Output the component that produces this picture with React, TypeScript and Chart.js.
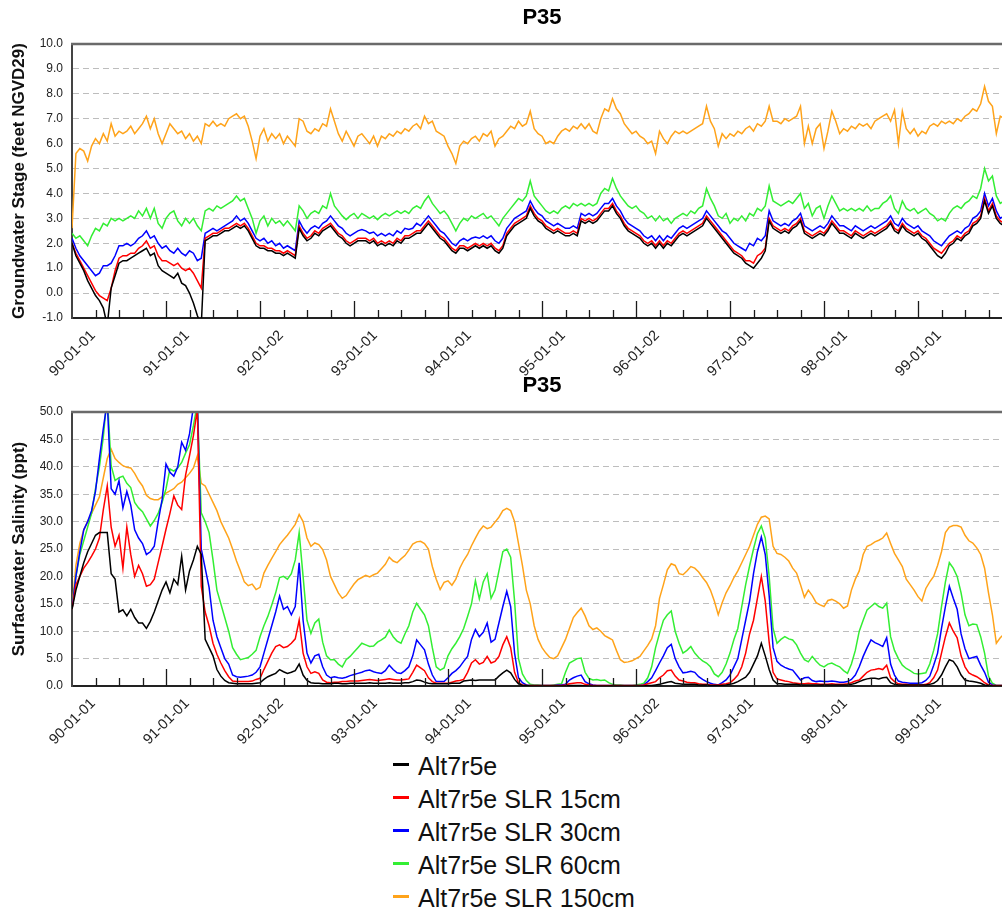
import React, { useEffect, useRef } from 'react';
import { Chart, registerables } from 'chart.js';

Chart.register(...registerables);

const FONT = "'Liberation Sans', Arial, Helvetica, sans-serif";

const CHART_TITLE = 'P35';
const SERIES_NAMES = ['Alt7r5e', 'Alt7r5e SLR 15cm', 'Alt7r5e SLR 30cm', 'Alt7r5e SLR 60cm', 'Alt7r5e SLR 150cm'];
const SERIES_COLORS = ['#000000', '#ff0000', '#0000ff', '#33ee33', '#ffa31a'];
const YEAR_LABELS = ['90-01-01', '91-01-01', '92-01-02', '93-01-01', '94-01-01', '95-01-01', '96-01-02', '97-01-01', '98-01-01', '99-01-01'];
const SAMPLES_PER_YEAR = 24; // semi-monthly samples starting 1990-01-01
const X_YEARS = 10;

// ---------- Groundwater stage (feet NGVD29) ----------
const GW_BASE = [
  2.0, 1.5, 1.2, 0.9, 0.5, 0.2, -0.1, -0.3, -0.6, -1.3, 0.2, 0.7, 1.2, 1.3, 1.3, 1.4, 1.5, 1.6, 1.7, 1.8, 1.5, 1.6, 1.1, 0.9,
  0.8, 0.7, 0.6, 0.8, 0.4, 0.3, 0.0, -0.4, -0.9, -1.3, 2.1, 2.2, 2.3, 2.3, 2.4, 2.5, 2.5, 2.6, 2.7, 2.6, 2.7, 2.5, 2.2, 1.9,
  1.8, 1.8, 1.7, 1.7, 1.6, 1.6, 1.5, 1.6, 1.5, 1.4, 2.6, 2.3, 2.1, 2.2, 2.4, 2.3, 2.5, 2.6, 2.7, 2.5, 2.3, 2.2, 2.0, 1.9,
  2.0, 2.1, 2.1, 2.1, 2.0, 2.1, 1.9, 2.0, 1.9, 2.0, 1.9, 2.1, 2.0, 2.2, 2.2, 2.3, 2.4, 2.4, 2.6, 2.8, 2.6, 2.4, 2.2, 2.1,
  1.9, 1.7, 1.6, 1.8, 1.8, 1.7, 1.8, 1.9, 1.8, 1.9, 1.8, 1.9, 1.7, 1.6, 1.8, 2.3, 2.5, 2.7, 2.8, 2.9, 3.0, 3.4, 3.1, 2.9,
  2.8, 2.6, 2.5, 2.4, 2.5, 2.4, 2.3, 2.3, 2.4, 2.3, 2.9, 2.8, 2.9, 2.8, 2.9, 3.1, 3.3, 3.3, 3.5, 3.2, 3.0, 2.7, 2.5, 2.4,
  2.3, 2.2, 2.0, 1.9, 2.0, 1.8, 2.0, 1.8, 2.0, 1.9, 2.1, 2.3, 2.4, 2.3, 2.4, 2.5, 2.6, 2.7, 3.0, 2.8, 2.6, 2.4, 2.2, 2.0,
  1.8, 1.6, 1.5, 1.4, 1.2, 1.1, 1.0, 1.2, 1.4, 1.7, 2.9, 2.6, 2.5, 2.4, 2.5, 2.4, 2.6, 2.7, 2.9, 2.4, 2.3, 2.2, 2.3, 2.4,
  2.3, 2.5, 2.8, 2.6, 2.4, 2.4, 2.3, 2.2, 2.4, 2.3, 2.2, 2.3, 2.4, 2.3, 2.4, 2.5, 2.6, 2.8, 2.5, 2.4, 2.7, 2.5, 2.4, 2.3,
  2.4, 2.2, 2.1, 1.9, 1.7, 1.5, 1.4, 1.6, 1.9, 2.0, 2.2, 2.1, 2.3, 2.4, 2.7, 2.8, 3.0, 3.7, 3.2, 3.5, 3.0, 2.8, 2.7,
];
const GW_SLR15 = [
  2.0, 1.6, 1.3, 1.0, 0.7, 0.4, 0.1, -0.1, -0.2, -0.3, 0.2, 0.9, 1.4, 1.5, 1.5, 1.6, 1.6, 1.8, 1.9, 2.1, 1.8, 1.9, 1.5, 1.3,
  1.3, 1.2, 1.1, 1.2, 1.0, 0.9, 1.0, 0.8, 0.5, 0.2, 2.2, 2.3, 2.4, 2.4, 2.5, 2.6, 2.6, 2.7, 2.8, 2.7, 2.8, 2.6, 2.3, 2.0,
  1.9, 1.9, 1.8, 1.8, 1.7, 1.7, 1.6, 1.7, 1.6, 1.5, 2.7, 2.4, 2.2, 2.3, 2.5, 2.4, 2.6, 2.7, 2.8, 2.6, 2.4, 2.3, 2.1, 2.0,
  2.1, 2.2, 2.2, 2.2, 2.1, 2.2, 2.0, 2.1, 2.0, 2.1, 2.0, 2.2, 2.1, 2.3, 2.3, 2.4, 2.5, 2.5, 2.7, 2.9, 2.7, 2.5, 2.3, 2.2,
  2.0, 1.8, 1.7, 1.9, 1.9, 1.8, 1.9, 2.0, 1.9, 2.0, 1.9, 2.0, 1.8, 1.7, 1.9, 2.4, 2.6, 2.8, 2.9, 3.0, 3.1, 3.5, 3.2, 3.0,
  2.9, 2.7, 2.6, 2.5, 2.6, 2.5, 2.4, 2.4, 2.5, 2.4, 3.0, 2.9, 3.0, 2.9, 3.0, 3.2, 3.4, 3.4, 3.6, 3.3, 3.1, 2.8, 2.6, 2.5,
  2.4, 2.3, 2.1, 2.0, 2.1, 1.9, 2.1, 1.9, 2.1, 2.0, 2.2, 2.4, 2.5, 2.4, 2.5, 2.6, 2.7, 2.8, 3.1, 2.9, 2.7, 2.5, 2.3, 2.1,
  1.9, 1.7, 1.6, 1.5, 1.3, 1.3, 1.2, 1.5, 1.6, 1.8, 3.0, 2.7, 2.6, 2.5, 2.6, 2.5, 2.7, 2.8, 3.0, 2.5, 2.4, 2.3, 2.4, 2.5,
  2.4, 2.6, 2.9, 2.7, 2.5, 2.5, 2.4, 2.3, 2.5, 2.4, 2.3, 2.4, 2.5, 2.4, 2.5, 2.6, 2.7, 2.9, 2.6, 2.5, 2.8, 2.6, 2.5, 2.4,
  2.5, 2.3, 2.2, 2.0, 1.8, 1.7, 1.6, 1.8, 2.0, 2.1, 2.3, 2.2, 2.4, 2.5, 2.8, 2.9, 3.1, 3.8, 3.3, 3.6, 3.1, 2.9, 2.8,
];
const GW_SLR30 = [
  2.2, 1.8, 1.5, 1.3, 1.1, 0.9, 0.7, 0.8, 1.1, 1.1, 1.2, 1.5, 1.9, 1.9, 2.0, 1.9, 2.0, 2.2, 2.3, 2.5, 2.2, 2.3, 2.0, 1.8,
  1.9, 1.7, 1.6, 1.8, 1.6, 1.5, 1.7, 1.6, 1.3, 1.4, 2.4, 2.5, 2.6, 2.5, 2.6, 2.7, 2.8, 2.9, 3.1, 2.9, 3.0, 2.8, 2.5, 2.2,
  2.1, 2.2, 2.0, 2.1, 1.9, 2.0, 1.8, 1.9, 1.8, 1.7, 2.9, 2.6, 2.4, 2.6, 2.7, 2.6, 2.8, 2.9, 3.1, 2.9, 2.7, 2.6, 2.4, 2.3,
  2.4, 2.5, 2.55, 2.5, 2.4, 2.45, 2.3, 2.4, 2.3, 2.4, 2.3, 2.5, 2.4, 2.6, 2.55, 2.6, 2.8, 2.7, 2.9, 3.1, 2.9, 2.7, 2.5, 2.4,
  2.2, 2.0, 1.9, 2.1, 2.2, 2.1, 2.2, 2.25, 2.2, 2.3, 2.2, 2.3, 2.1, 2.0, 2.2, 2.6, 2.8, 3.0, 3.1, 3.2, 3.3, 3.7, 3.4, 3.2,
  3.1, 2.9, 2.8, 2.7, 2.8, 2.7, 2.6, 2.6, 2.7, 2.6, 3.2, 3.1, 3.2, 3.1, 3.2, 3.4, 3.6, 3.6, 3.8, 3.5, 3.3, 3.0, 2.8, 2.7,
  2.6, 2.5, 2.3, 2.2, 2.3, 2.1, 2.3, 2.1, 2.3, 2.2, 2.4, 2.6, 2.7, 2.6, 2.7, 2.8, 2.9, 3.0, 3.3, 3.1, 2.9, 2.7, 2.5, 2.4,
  2.2, 2.0, 1.9, 1.8, 1.7, 2.0, 1.9, 2.2, 2.1, 2.3, 3.3, 2.9, 2.8, 2.7, 2.8, 2.7, 2.9, 3.0, 3.2, 2.7, 2.6, 2.5, 2.6, 2.7,
  2.6, 2.8, 3.1, 2.9, 2.7, 2.7, 2.6, 2.5, 2.7, 2.6, 2.5, 2.6, 2.7, 2.6, 2.7, 2.8, 2.9, 3.1, 2.8, 2.7, 3.0, 2.8, 2.7, 2.6,
  2.7, 2.5, 2.4, 2.3, 2.1, 2.0, 1.9, 2.1, 2.3, 2.4, 2.5, 2.4, 2.6, 2.7, 3.0, 3.1, 3.3, 4.0, 3.5, 3.8, 3.3, 3.0, 3.1,
];
const GW_SLR60 = [
  2.4, 2.2, 2.3, 2.1, 1.9, 2.3, 2.6, 2.5, 2.8, 2.7, 3.0, 2.9, 3.0, 2.9, 3.0, 3.1, 3.0, 3.3, 3.1, 3.4, 3.0, 3.4, 2.8, 2.6,
  3.0, 3.2, 3.3, 2.9, 2.7, 3.0, 2.8, 3.0, 2.7, 2.5, 3.3, 3.4, 3.3, 3.5, 3.4, 3.5, 3.6, 3.7, 3.9, 3.7, 3.8, 3.4, 3.0, 2.4,
  2.9, 3.1, 2.7, 3.0, 2.8, 2.9, 2.7, 2.9, 2.7, 2.5, 3.5, 3.3, 3.0, 3.2, 3.3, 3.2, 3.5, 3.4, 4.0, 3.5, 3.3, 3.1, 2.95, 3.1,
  3.2, 3.0, 3.2, 3.1, 3.0, 3.1, 2.95, 3.1, 3.2, 3.1, 3.2, 3.3, 3.2, 3.3, 3.2, 3.4, 3.5, 3.4, 3.7, 3.9, 3.6, 3.4, 3.2, 3.3,
  3.1, 2.8, 2.5, 2.8, 3.0, 2.9, 3.1, 3.0, 3.1, 3.2, 3.0, 3.1, 2.9, 2.7, 3.0, 3.2, 3.4, 3.6, 3.8, 3.7, 3.9, 4.5, 3.9, 3.7,
  3.5, 3.3, 3.2, 3.3, 3.2, 3.4, 3.5, 3.4, 3.6, 3.5, 3.6, 3.5, 3.6, 3.5, 3.6, 4.0, 4.2, 4.1, 4.6, 4.2, 3.9, 3.7, 3.5, 3.4,
  3.5, 3.3, 3.2, 3.0, 3.1, 2.9, 3.1, 2.9, 3.0, 2.8, 3.0, 3.1, 3.2, 3.1, 3.3, 3.2, 3.4, 3.5, 4.2, 3.8, 3.5, 3.1, 3.0, 3.2,
  2.8, 3.0, 2.9, 3.1, 2.9, 3.2, 3.1, 3.4, 3.3, 3.5, 4.3, 3.7, 3.6, 3.5, 3.6, 3.7, 3.6, 3.8, 4.0, 3.4, 3.6, 3.1, 3.4, 3.5,
  3.0, 3.5, 3.9, 3.6, 3.3, 3.4, 3.3, 3.4, 3.3, 3.4, 3.3, 3.5, 3.3, 3.4, 3.4, 3.6, 3.7, 3.9, 3.4, 3.2, 3.7, 3.4, 3.3, 3.4,
  3.2, 3.3, 3.4, 3.2, 3.1, 2.9, 3.0, 2.9, 3.2, 3.4, 3.5, 3.4, 3.6, 3.7, 3.9, 3.8, 4.2, 5.0, 4.5, 4.7, 3.9, 3.6, 3.7,
];
const GW_SLR150 = [
  2.6, 5.6, 5.8, 5.7, 5.3, 5.9, 6.2, 6.0, 6.4, 6.1, 6.8, 6.3, 6.5, 6.4, 6.5, 6.7, 6.4, 6.6, 6.8, 7.1, 6.6, 7.0, 6.4, 6.0,
  6.4, 6.8, 6.6, 6.4, 6.5, 6.2, 6.4, 6.1, 6.3, 6.0, 6.8, 6.7, 6.9, 6.7, 6.8, 6.7, 7.0, 7.1, 7.2, 7.0, 7.1, 6.7, 6.1, 5.4,
  6.3, 6.6, 6.1, 6.4, 6.2, 6.4, 6.0, 6.3, 6.1, 5.9, 7.0, 6.9, 6.5, 6.4, 6.6, 6.5, 6.8, 6.7, 7.4, 6.9, 6.4, 6.1, 6.5, 6.2,
  5.9, 6.3, 6.4, 6.2, 6.0, 6.3, 5.9, 6.3, 6.2, 6.4, 6.3, 6.5, 6.4, 6.6, 6.5, 6.7, 6.8, 6.6, 7.1, 6.8, 6.9, 6.5, 6.4, 6.3,
  5.9, 5.6, 5.2, 5.9, 6.1, 6.0, 6.2, 6.3, 6.1, 6.4, 6.3, 6.5, 5.9, 6.2, 6.3, 6.5, 6.7, 6.6, 6.9, 6.7, 6.8, 7.3, 6.6, 6.4,
  6.3, 6.0, 6.1, 6.0, 6.3, 6.5, 6.6, 6.5, 6.7, 6.6, 6.8, 6.6, 6.8, 6.5, 6.4, 7.0, 7.4, 7.3, 7.8, 7.4, 7.2, 6.8, 6.6, 6.4,
  6.5, 6.3, 6.2, 6.0, 6.1, 5.6, 6.5, 6.2, 6.0, 6.3, 6.5, 6.4, 6.5, 6.4, 6.5, 6.6, 6.7, 6.8, 7.5, 6.9, 6.6, 5.9, 6.4, 6.2,
  6.4, 6.3, 6.5, 6.4, 6.6, 6.7, 6.5, 6.8, 6.7, 6.9, 7.5, 6.9, 6.9, 6.8, 7.0, 6.9, 7.0, 7.1, 7.5, 6.0, 6.7, 6.0, 6.6, 6.8,
  5.8, 6.5, 7.3, 6.9, 6.4, 6.6, 6.5, 6.7, 6.6, 6.8, 6.7, 6.8, 6.6, 6.9, 7.0, 7.1, 7.2, 6.9, 7.35, 6.0, 7.3, 6.6, 6.4, 6.6,
  6.3, 6.5, 6.4, 6.7, 6.8, 6.7, 6.9, 6.8, 6.9, 6.8, 7.0, 6.9, 7.1, 7.2, 7.4, 7.3, 7.6, 8.3, 7.7, 7.5, 6.4, 7.1, 7.0,
];

// ---------- Surfacewater salinity (ppt) ----------
const SAL_BASE = [
  14, 17.5, 20.0, 22.5, 24.5, 26.0, 27.5, 28.0, 28.0, 28.0, 20.5, 19.5, 13.5, 13.9, 12.8, 14.0, 12.5, 11.5, 11.5, 10.5, 11.8, 13.5, 15.5, 17.5,
  19.0, 17.0, 19.5, 18.5, 23.7, 17.5, 21.0, 23.0, 25.5, 24.0, 8.5, 7.0, 5.5, 3.0, 1.8, 1.0, 0.6, 0.5, 0.4, 0.4, 0.4, 0.4, 0.4, 0.5,
  0.6, 1.2, 1.7, 2.0, 2.3, 3.0, 2.6, 2.3, 2.5, 2.8, 4.0, 2.0, 1.0, 0.6, 0.5, 0.5, 0.4, 0.4, 0.4, 0.5, 0.5, 0.4, 0.4, 0.5,
  0.5, 0.5, 0.5, 0.5, 0.6, 0.5, 0.5, 0.5, 0.5, 0.6, 0.5, 0.5, 0.5, 0.6, 0.6, 0.8, 1.1, 1.0, 0.7, 0.5, 0.4, 0.4, 0.4, 0.4,
  0.4, 0.5, 0.5, 0.5, 0.9, 1.0, 1.1, 1.0, 1.1, 1.1, 1.1, 1.1, 1.1, 1.8, 2.4, 2.9, 2.4, 1.2, 0.4, 0.1, 0.1, 0.0, 0.0, 0.0,
  0.0, 0.0, 0.0, 0.0, 0.0, 0.0, 0.0, 0.1, 0.1, 0.1, 0.1, 0.0, 0.0, 0.0, 0.0, 0.0, 0.0, 0.0, 0.0, 0.0, 0.0, 0.0, 0.0, 0.0,
  0.0, 0.0, 0.0, 0.1, 0.1, 0.2, 0.3, 0.5, 0.7, 0.8, 0.5, 0.4, 0.3, 0.3, 0.3, 0.3, 0.2, 0.2, 0.2, 0.1, 0.1, 0.1, 0.1, 0.2,
  0.3, 0.5, 0.8, 1.2, 1.6, 2.5, 4.0, 5.5, 7.8, 5.5, 3.0, 1.1, 0.4, 0.4, 0.3, 0.3, 0.3, 0.3, 0.2, 0.2, 0.2, 0.2, 0.2, 0.2,
  0.2, 0.2, 0.2, 0.2, 0.2, 0.2, 0.2, 0.3, 0.5, 0.8, 1.1, 1.3, 1.4, 1.4, 1.3, 1.5, 1.6, 0.6, 0.3, 0.2, 0.2, 0.2, 0.2, 0.2,
  0.2, 0.2, 0.2, 0.3, 0.5, 1.0, 2.0, 3.5, 4.8, 4.5, 3.5, 2.0, 1.1, 0.9, 0.8, 0.7, 0.5, 0.2, 0.1, 0.0, 0.0, 0.0, 0.0,
];
const SAL_SLR15 = [
  14, 18.5, 20.0, 21.5, 22.5, 23.7, 25.0, 27.0, 32.2, 36.5, 29.0, 25.5, 27.5, 21.5, 29.0, 24.0, 20.0, 22.0, 20.5, 18.2, 18.5, 19.5, 22.5, 25.5,
  28.6, 31.5, 34.7, 33.0, 32.2, 38.5, 42.0, 45.7, 50.5, 18.2, 13.5, 11.0, 7.8, 5.8, 4.2, 2.8, 1.7, 0.9, 0.8, 0.8, 0.8, 0.8, 0.9, 1.2,
  1.4, 3.0, 4.5, 6.0, 7.2, 7.5, 7.0, 7.2, 7.8, 8.6, 12.0, 6.0, 3.5, 2.3, 2.6, 2.3, 1.1, 0.7, 0.6, 0.7, 0.7, 0.8, 0.8, 0.9,
  0.9, 0.9, 1.0, 1.1, 1.2, 1.1, 1.0, 1.1, 1.2, 1.3, 1.2, 1.1, 1.1, 1.2, 1.3, 2.5, 3.8, 3.3, 2.8, 1.5, 0.8, 0.5, 0.5, 0.5,
  0.5, 0.7, 0.9, 1.0, 1.2, 2.5, 4.2, 4.8, 4.0, 4.3, 5.4, 4.2, 4.5, 5.4, 7.5, 9.0, 7.0, 2.5, 0.6, 0.2, 0.1, 0.1, 0.1, 0.1,
  0.1, 0.1, 0.1, 0.1, 0.1, 0.1, 0.2, 0.4, 0.5, 0.6, 0.6, 0.3, 0.2, 0.1, 0.1, 0.1, 0.1, 0.1, 0.1, 0.1, 0.1, 0.1, 0.1, 0.1,
  0.1, 0.1, 0.2, 0.4, 0.6, 0.8, 1.5, 2.0, 2.8, 2.9, 1.8, 1.1, 0.9, 0.7, 0.6, 0.6, 0.4, 0.3, 0.3, 0.2, 0.2, 0.2, 0.3, 0.4,
  0.6, 1.2, 2.0, 3.5, 6.0, 9.5, 12.0, 16.0, 20.0, 15.5, 8.0, 2.5, 1.3, 1.1, 0.9, 0.8, 0.6, 0.5, 0.4, 0.4, 0.5, 0.4, 0.4, 0.3,
  0.3, 0.3, 0.4, 0.3, 0.3, 0.3, 0.4, 0.6, 0.9, 1.1, 1.8, 2.5, 2.9, 3.0, 3.2, 3.0, 3.8, 1.5, 0.8, 0.4, 0.3, 0.3, 0.2, 0.2,
  0.2, 0.2, 0.3, 0.6, 1.5, 2.9, 6.0, 9.0, 11.5, 10.0, 8.8, 5.5, 3.5, 2.4, 2.0, 1.7, 1.2, 0.6, 0.2, 0.1, 0.1, 0.1, 0.1,
];
const SAL_SLR30 = [
  14, 20, 24.5, 28.5, 30.0, 32.0, 35.5, 41.5, 47.0, 52, 36.0, 35.0, 37.5, 32.5, 35.5, 33.0, 28.5, 27.0, 26.0, 24.0, 24.5, 25.5, 30.0, 34.0,
  40.5, 39.0, 38.3, 40.0, 44.5, 43.0, 46.0, 51, 52, 25.0, 21.5, 18.0, 12.0, 9.0, 7.0, 5.0, 4.0, 2.0, 1.7, 1.6, 1.7, 1.8, 2.0, 2.5,
  3.5, 6.0, 8.5, 11.0, 13.5, 16.4, 14.0, 14.5, 13.0, 14.5, 22.5, 12.0, 6.0, 4.2, 5.5, 5.8, 3.5, 2.0, 1.5, 1.7, 1.5, 1.4, 1.6, 1.9,
  2.1, 2.3, 2.5, 2.8, 2.9, 2.6, 2.4, 2.3, 2.8, 3.8, 3.0, 2.4, 2.3, 2.8, 3.5, 5.5, 8.4, 7.5, 6.6, 4.0, 2.0, 0.8, 0.8, 0.8,
  1.5, 2.3, 2.8, 3.5, 4.5, 5.4, 8.5, 10.3, 9.0, 9.8, 11.5, 8.0, 8.5, 11.5, 14.5, 17.3, 14.5, 6.0, 1.5, 0.6, 0.2, 0.1, 0.1, 0.1,
  0.1, 0.1, 0.1, 0.1, 0.2, 0.2, 0.3, 1.1, 1.5, 1.8, 2.0, 0.8, 0.4, 0.2, 0.1, 0.1, 0.1, 0.1, 0.1, 0.1, 0.1, 0.1, 0.1, 0.1,
  0.1, 0.1, 0.2, 0.8, 1.5, 2.8, 4.2, 5.5, 7.0, 7.6, 5.0, 3.5, 2.4, 2.5, 2.7, 2.5, 1.7, 1.2, 0.8, 0.5, 0.3, 0.2, 0.6, 1.1,
  2.0, 3.5, 5.0, 8.5, 12.0, 15.5, 20.5, 24.5, 27.2, 24.0, 16.5, 7.0, 4.5, 3.8, 3.4, 3.1, 2.9, 2.0, 1.1, 1.5, 1.6, 1.0, 0.8, 0.9,
  0.8, 0.8, 0.9, 0.8, 0.7, 0.7, 0.8, 1.2, 2.0, 3.5, 5.4, 7.0, 8.4, 7.9, 7.6, 7.2, 8.8, 4.0, 2.0, 0.9, 0.7, 0.6, 0.5, 0.5,
  0.5, 0.6, 1.0, 1.8, 3.8, 6.0, 10.5, 14.5, 18.2, 16.0, 14.0, 9.5, 6.8, 5.0, 5.2, 5.4, 3.8, 2.5, 0.7, 0.2, 0.1, 0.1, 0.1,
];
const SAL_SLR60 = [
  14, 20, 24, 26.5, 29, 31.5, 36, 40, 45.5, 53, 40.2, 37.5, 38.0, 38.3, 37.0, 36.2, 33.5, 32.5, 31.8, 30.5, 29.2, 30.2, 31.5, 33.5,
  36.0, 39.6, 39.2, 39.8, 40.8, 42.5, 44.0, 47.5, 51.5, 31.6, 30.0, 28.0, 23.0, 17.5, 15.0, 12.5, 10.0, 7.0, 5.8, 4.8, 5.0, 5.2, 5.8, 6.5,
  9.0, 11.0, 12.7, 14.8, 17.0, 19.8, 20.0, 19.5, 20.5, 23.0, 28.0, 20.0, 12.0, 9.6, 11.5, 12.2, 8.0, 5.5, 4.8, 4.8, 4.0, 3.5, 4.8, 5.4,
  6.2, 7.0, 7.8, 7.5, 7.2, 7.3, 8.0, 8.4, 8.9, 10.2, 9.0, 8.2, 7.8, 9.5, 11.0, 13.5, 15.1, 14.0, 13.0, 11.0, 7.0, 3.5, 2.9, 3.3,
  5.5, 6.8, 7.8, 9.0, 10.5, 12.7, 15.0, 19.2, 15.9, 19.0, 20.5, 16.0, 17.5, 21.0, 24.5, 25.0, 23.5, 15.5, 5.0, 2.2, 1.0, 0.3, 0.2, 0.2,
  0.1, 0.1, 0.1, 0.2, 0.3, 0.4, 2.5, 4.2, 4.6, 5.0, 5.1, 2.5, 1.4, 1.1, 1.2, 1.0, 1.1, 0.6, 0.3, 0.2, 0.2, 0.1, 0.1, 0.1,
  0.2, 0.3, 0.5, 1.5, 3.5, 7.0, 9.6, 12.0, 13.0, 13.7, 10.0, 7.8, 6.0, 6.5, 7.2, 6.0, 5.2, 4.6, 4.2, 3.5, 2.2, 1.7, 2.5, 4.0,
  6.0, 8.5, 10.5, 14.5, 18.5, 21.9, 25.0, 27.8, 29.2, 27.0, 20.0, 10.5, 7.8, 8.5, 9.0, 8.6, 8.4, 7.5, 6.0, 4.8, 4.4, 5.4, 4.5, 3.8,
  3.5, 4.0, 4.2, 3.8, 3.5, 2.8, 2.3, 4.0, 6.5, 10.0, 12.0, 13.9, 14.5, 15.1, 14.5, 14.2, 15.1, 9.0, 6.5, 5.0, 3.8, 3.2, 2.8, 2.3,
  2.2, 2.3, 2.4, 4.0, 6.5, 9.5, 14.5, 19.0, 22.5, 21.5, 20.0, 17.0, 13.0, 11.0, 11.3, 11.2, 9.0, 6.0, 1.8, 0.5, 0.1, 0.1, 0.1,
];
const SAL_SLR150 = [
  14, 22, 26, 28.5, 30, 31.5, 33, 34.5, 38, 41.5, 43.2, 41.5, 40.8, 40.2, 39.9, 39.8, 38.8, 37.5, 36.5, 34.8, 34.2, 34.0, 34.0, 34.5,
  35.2, 35.6, 36.0, 36.8, 37.2, 38.0, 38.8, 39.8, 42.0, 37.0, 36.5, 35.0, 33.5, 32.0, 30.0, 28.5, 27.0, 25.0, 22.8, 21.0, 19.0, 18.3, 18.6, 17.6,
  18.0, 20.6, 22.0, 23.3, 24.5, 25.8, 26.7, 27.5, 28.5, 29.5, 31.3, 30.0, 27.0, 25.5, 26.1, 25.8, 24.9, 23.0, 20.0, 18.5, 17.0, 16.0, 16.5, 17.6,
  18.6, 19.4, 19.8, 20.2, 19.9, 20.3, 20.6, 21.4, 22.2, 23.5, 22.8, 22.5, 23.2, 23.8, 24.8, 25.9, 26.3, 26.4, 26.0, 25.0, 21.8, 19.5, 17.6, 18.9,
  19.2, 18.4, 19.5, 21.5, 22.9, 24.0, 25.6, 27.0, 28.3, 29.2, 28.7, 29.0, 29.9, 30.8, 32.0, 32.4, 32.0, 30.0, 26.0, 22.0, 17.5, 15.0, 11.0, 8.5,
  7.0, 6.0, 5.2, 5.0, 5.5, 7.0, 8.5, 10.5, 12.5, 13.4, 14.2, 12.8, 11.0, 10.3, 10.6, 10.0, 9.2, 8.8, 8.4, 6.5, 4.8, 4.3, 4.4, 4.6,
  5.0, 5.4, 6.4, 7.4, 8.6, 11.0, 16.0, 18.5, 21.2, 22.3, 22.0, 20.5, 20.3, 21.0, 21.8, 21.5, 20.8, 19.8, 18.9, 17.5, 15.5, 13.0, 15.2, 17.0,
  18.3, 19.8, 21.0, 22.5, 24.0, 25.5, 27.5, 29.5, 30.8, 31.0, 30.5, 25.5, 24.2, 24.0, 23.5, 22.8, 21.5, 20.6, 18.5, 16.2, 17.5, 16.5, 15.2, 14.8,
  14.5, 15.6, 15.8, 15.5, 15.0, 14.2, 14.6, 17.5, 19.5, 21.0, 24.0, 25.5, 25.8, 26.3, 26.6, 27.0, 27.9, 26.0, 24.2, 23.0, 21.8, 19.5, 18.5, 17.5,
  16.3, 15.5, 17.8, 19.0, 20.0, 22.0, 24.5, 28.0, 29.0, 29.3, 29.3, 29.0, 27.5, 26.5, 26.1, 25.2, 24.0, 21.5, 17.0, 13.0, 7.8, 8.8, 9.5,
];

const GW_SERIES = [GW_BASE, GW_SLR15, GW_SLR30, GW_SLR60, GW_SLR150];
const SAL_SERIES = [SAL_BASE, SAL_SLR15, SAL_SLR30, SAL_SLR60, SAL_SLR150];

const nearMultiple = (v: number, step: number) => Math.abs(v / step - Math.round(v / step)) < 1e-6;

const innerTicksAndFrame = {
  id: 'innerTicksAndFrame',
  afterDatasetsDraw(chart: any) {
    const { ctx, chartArea: a, scales } = chart;
    const x = scales.x;
    ctx.save();
    ctx.strokeStyle = '#1a1a1a';
    ctx.lineWidth = 1.3;
    ctx.beginPath();
    for (const t of x.ticks) {
      if (!nearMultiple(t.value, 0.25)) continue;
      const px = Math.round(x.getPixelForValue(t.value)) + 0.5;
      if (px < a.left + 3 || px > a.right - 1) continue;
      const len = nearMultiple(t.value, 1) ? 17 : 8;
      ctx.moveTo(px, a.bottom);
      ctx.lineTo(px, a.bottom - len);
    }
    ctx.stroke();
    ctx.strokeStyle = '#6a6a6a';
    ctx.lineWidth = 2.5;
    ctx.beginPath();
    ctx.moveTo(a.left - 1, a.top);
    ctx.lineTo(a.right, a.top);
    ctx.stroke();
    ctx.restore();
  },
};

function buildConfig(yTitle: string, yMin: number, yMax: number, labelStep: number, series: number[][]): any {
  return {
    type: 'line',
    data: {
      datasets: series.map((vals, k) => ({
        label: SERIES_NAMES[k],
        data: vals.map((y, i) => ({ x: i / SAMPLES_PER_YEAR, y })),
        borderColor: SERIES_COLORS[k],
        backgroundColor: SERIES_COLORS[k],
        borderWidth: 1.5,
        pointRadius: 0,
        tension: 0,
        fill: false,
      })),
    },
    options: {
      responsive: false,
      animation: false,
      parsing: false,
      layout: { padding: 0 },
      plugins: {
        legend: { display: false },
        tooltip: { enabled: false },
        title: {
          display: true,
          text: CHART_TITLE,
          fullSize: false,
          color: '#000',
          font: { family: FONT, size: 22, weight: 'bold', lineHeight: 1.2 },
          padding: { top: 5, bottom: 12.6 },
        },
      },
      scales: {
        x: {
          type: 'linear',
          min: 0,
          max: X_YEARS,
          grid: { display: false, drawTicks: false },
          border: { display: true, color: '#222', width: 2 },
          ticks: {
            stepSize: 0.25,
            autoSkip: false,
            includeBounds: false,
            minRotation: 45,
            maxRotation: 45,
            padding: 9,
            labelOffset: 21,
            color: '#222',
            font: { family: FONT, size: 14.5 },
            callback: (v: number) => (nearMultiple(v, 1) ? YEAR_LABELS[Math.round(v)] ?? '' : ''),
          },
          afterFit: (s: any) => {
            s.height = 62;
            s.paddingLeft = 0;
            s.paddingRight = 0;
          },
        },
        y: {
          min: yMin,
          max: yMax,
          grid: {
            drawTicks: false,
            lineWidth: 1,
            color: (c: any) => (c.tick && nearMultiple(c.tick.value, labelStep) ? '#bdbdbd' : '#d9d9d9'),
          },
          border: {
            display: true,
            color: '#444',
            width: 2,
            dash: (c: any) => (c.tick ? (nearMultiple(c.tick.value, labelStep) ? [6, 4] : [1, 3]) : []),
          },
          ticks: {
            stepSize: labelStep / 2,
            padding: 9,
            color: '#222',
            font: { family: FONT, size: 12 },
            callback: (v: number) => (nearMultiple(v, labelStep) ? Number(v).toFixed(1) : ''),
          },
          title: {
            display: true,
            text: yTitle,
            color: '#111',
            font: { family: FONT, size: 17, weight: 'bold', lineHeight: 1.2 },
            padding: { top: 9, bottom: 0 },
          },
          afterFit: (s: any) => {
            s.width = 72;
            s.paddingTop = 0;
            s.paddingBottom = 0;
          },
        },
      },
    },
    plugins: [innerTicksAndFrame],
  };
}

export default function App() {
  const topRef = useRef<HTMLCanvasElement | null>(null);
  const bottomRef = useRef<HTMLCanvasElement | null>(null);

  useEffect(() => {
    Chart.defaults.font.family = FONT;
    const c1 = new Chart(topRef.current as HTMLCanvasElement, buildConfig('Groundwater Stage (feet NGVD29)', -1, 10, 1, GW_SERIES));
    const c2 = new Chart(bottomRef.current as HTMLCanvasElement, buildConfig('Surfacewater Salinity (ppt)', 0, 50, 5, SAL_SERIES));
    return () => {
      c1.destroy();
      c2.destroy();
    };
  }, []);

  return (
    <div style={{ position: 'absolute', left: 0, top: 0, width: 1002, height: 913, overflow: 'hidden', background: '#fff' }}>
      <canvas ref={topRef} width={1012} height={380} style={{ position: 'absolute', left: 0, top: 0 }} />
      <canvas ref={bottomRef} width={1012} height={380} style={{ position: 'absolute', left: 0, top: 368 }} />
      <div style={{ position: 'absolute', left: 0, top: 750, width: 1002, fontFamily: FONT }}>
        {SERIES_NAMES.map((name, k) => (
          <div key={name} style={{ position: 'absolute', left: 0, top: k * 33, width: 700, height: 33 }}>
            <span style={{ position: 'absolute', left: 393, top: 13, width: 16, height: 3, background: SERIES_COLORS[k] }} />
            <span style={{ position: 'absolute', left: 418, top: 0, fontSize: 25, lineHeight: '33px', whiteSpace: 'nowrap', color: '#111' }}>
              {name}
            </span>
          </div>
        ))}
      </div>
    </div>
  );
}
